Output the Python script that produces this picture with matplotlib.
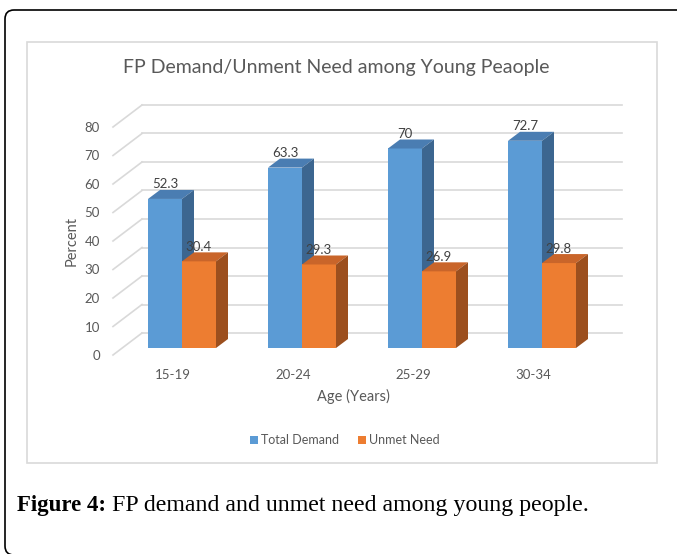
import matplotlib
matplotlib.use('Agg')
import matplotlib.pyplot as plt
from matplotlib.patches import Polygon, Rectangle, FancyBboxPatch, Patch
from matplotlib.transforms import IdentityTransform
import numpy as np

# ---- data ----
categories = ['15-19', '20-24', '25-29', '30-34']
total_demand = [52.3, 63.3, 70, 72.7]
unmet_need = [30.4, 29.3, 26.9, 29.8]
series_names = ['Total Demand', 'Unmet Need']
y_ticks = [0, 10, 20, 30, 40, 50, 60, 70, 80]
title = 'FP Demand/Unment Need among Young Peaople'
x_title = 'Age (Years)'
y_title = 'Percent'
caption_bold = 'Figure 4:'
caption_rest = ' FP demand and unmet need among young people.'

# ---- style ----
plt.rcParams['font.family'] = ['Lato', 'DejaVu Sans']
BLUE = ('#5B9BD5', '#4A7DB2', '#3C6690')      # front, top, side
ORANGE = ('#ED7D31', '#C9652A', '#9C4F1E')
GRID = '#D9D9D9'
TXT = '#595959'

W, H = 677, 554
fig = plt.figure(figsize=(W / 100, H / 100), dpi=100)

def fx(px):
    return px / W

def fy(py):
    return 1 - py / H

# bar front plane axes
ax_l, ax_t, ax_w, ax_h = 122, 120, 480, 228
ax = fig.add_axes([fx(ax_l), fy(ax_t + ax_h), ax_w / W, ax_h / H], zorder=2)
ax.set_xlim(-0.5, len(categories) - 0.5)
ax.set_ylim(0, 80)
ax.axis('off')

ppx = ax_w / len(categories)
ppy = ax_h / 80.0

def off(dxp, dyp):
    return dxp / ppx, dyp / ppy

# label (front edge) axes
lab = fig.add_axes([fx(ax_l - 9), fy(ax_t + ax_h + 7), ax_w / W, ax_h / H], zorder=1)
lab.set_xlim(-0.5, len(categories) - 0.5)
lab.set_ylim(0, 80)
lab.patch.set_visible(False)
for s in lab.spines.values():
    s.set_visible(False)
x = np.arange(len(categories))
lab.set_xticks(x, categories)
lab.set_yticks(y_ticks)
lab.tick_params(length=0, labelsize=9.5, colors=TXT)
lab.tick_params(axis='y', pad=9.5)
lab.tick_params(axis='x', pad=10)
lab.set_ylabel(y_title, fontsize=10.5, color=TXT)
lab.yaxis.set_label_coords(-0.072, 0.5)
lab.set_xlabel(x_title, fontsize=10.5, color=TXT)
lab.xaxis.set_label_coords(0.5, -0.15)

# gridlines: back wall + left side wall
bx, by = off(20, 15)
ex, ey = off(-9, -7)
x0, x1 = -0.5, len(categories) - 0.5
for v in y_ticks:
    ax.plot([x0 + bx, x1 + bx], [v + by, v + by], color=GRID, lw=1.2, zorder=1, clip_on=False)
    ax.plot([x0 + ex, x0 + bx], [v + ey, v + by], color=GRID, lw=1.2, zorder=1, clip_on=False)

# bars
bw = 34 / ppx
dx, dy = off(12, 9)
for k, (vals, cols) in enumerate([(total_demand, BLUE), (unmet_need, ORANGE)]):
    lefts = x - bw + k * bw
    z = 2 + 2 * k
    ax.bar(lefts, vals, width=bw, align='edge', color=cols[0], zorder=z, clip_on=False)
    for l, h in zip(lefts, vals):
        top = Polygon([(l, h), (l + bw, h), (l + bw + dx, h + dy), (l + dx, h + dy)],
                      closed=True, facecolor=cols[1], edgecolor='none', zorder=z + 1, clip_on=False)
        side = Polygon([(l + bw, 0), (l + bw, h), (l + bw + dx, h + dy), (l + bw + dx, dy)],
                       closed=True, facecolor=cols[2], edgecolor='none', zorder=z + 1, clip_on=False)
        ax.add_patch(top)
        ax.add_patch(side)
        ax.text(l + bw / 2, h + 14.5 / ppy, f'{h:g}', ha='center', va='center',
                fontsize=9.5, color='#404040', zorder=10, clip_on=False)

# title
fig.text(fx(336), fy(68), title, ha='center', va='center', fontsize=14, color=TXT)

# legend
handles = [Patch(facecolor=BLUE[0]), Patch(facecolor=ORANGE[0])]
fig.legend(handles, series_names, loc='center', bbox_to_anchor=(fx(345), fy(440)),
           ncol=2, frameon=False, fontsize=9, handlelength=0.6, handleheight=0.6,
           handletextpad=0.3, columnspacing=1.5, labelcolor=TXT)

# chart area border
fig.patches.append(Rectangle((fx(27), fy(463)), (657 - 27) / W, (463 - 42) / H,
                             transform=fig.transFigure, fill=False, edgecolor=GRID, lw=1.2))
# outer rounded border
fig.patches.append(FancyBboxPatch((5, -1), 720, 545, boxstyle='round,pad=0,rounding_size=9',
                                  transform=IdentityTransform(), fill=False,
                                  edgecolor='black', lw=1.2))

# caption
renderer = fig.canvas.get_renderer()
t1 = fig.text(fx(17), fy(505), caption_bold, fontweight='bold', family='Liberation Serif',
              fontsize=16.5, va='center', color='black')
bb = t1.get_window_extent(renderer)
fig.text(bb.x1 / W, fy(505), caption_rest, family='Liberation Serif',
         fontsize=17.2, va='center', color='black')

fig.savefig('out.png', dpi=100)
